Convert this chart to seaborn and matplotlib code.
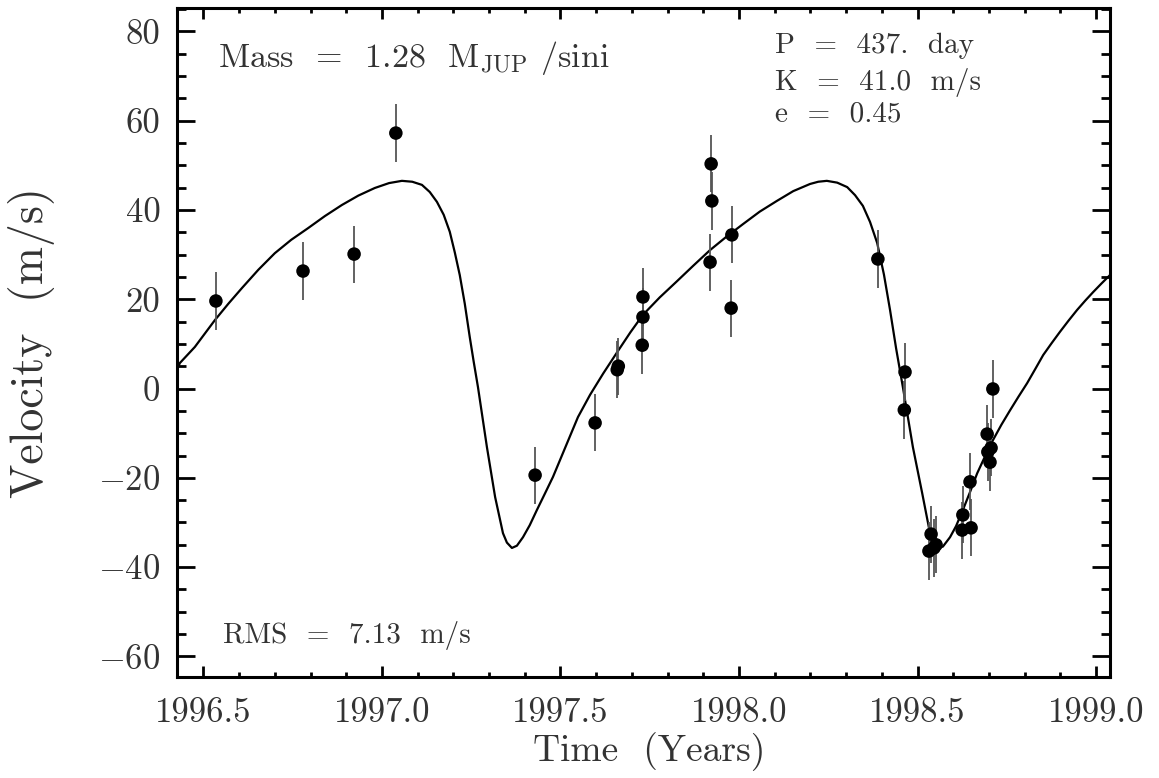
import numpy as np
import pandas as pd
import matplotlib
matplotlib.use("Agg")
import matplotlib.pyplot as plt
from matplotlib.ticker import MultipleLocator
import seaborn as sns

obs_time = [1996.535, 1996.779, 1996.922, 1997.039, 1997.429, 1997.597,
            1997.659, 1997.662, 1997.731, 1997.731, 1997.729, 1997.922,
            1997.924, 1997.919, 1997.980, 1997.978, 1998.389, 1998.465,
            1998.463, 1998.538, 1998.532, 1998.546, 1998.552, 1998.627,
            1998.625, 1998.650, 1998.647, 1998.695, 1998.706, 1998.697,
            1998.703, 1998.711]
obs_vel = [19.6, 26.3, 30.1, 57.2, -19.4, -7.7,
           4.2, 5.0, 20.5, 16.0, 9.7, 50.3,
           42.0, 28.3, 34.4, 18.0, 29.0, 3.7,
           -4.8, -32.6, -36.4, -35.7, -35.0, -28.3,
           -31.7, -31.2, -20.9, -10.2, -13.3, -14.2,
           -16.5, -0.1]
obs_err = [6.4] * len(obs_time)

# fitted orbit curve
fit_time = [1996.426, 1996.434, 1996.476, 1996.532, 1996.570, 1996.608, 1996.654,
            1996.700, 1996.746, 1996.793, 1996.840, 1996.888, 1996.934, 1996.980,
            1997.020, 1997.056, 1997.085, 1997.112, 1997.134, 1997.154, 1997.173,
            1997.190, 1997.204, 1997.218, 1997.232, 1997.246, 1997.257, 1997.269,
            1997.294, 1997.317, 1997.339, 1997.350, 1997.364, 1997.378, 1997.395,
            1997.414, 1997.434, 1997.456, 1997.479, 1997.514, 1997.549, 1997.583,
            1997.620, 1997.661, 1997.696, 1997.731, 1997.778, 1997.826, 1997.872,
            1997.919, 1997.965, 1998.011, 1998.058, 1998.106, 1998.152, 1998.199,
            1998.222, 1998.246, 1998.275, 1998.303, 1998.325, 1998.347, 1998.367,
            1998.387, 1998.406, 1998.423, 1998.440, 1998.459, 1998.487, 1998.513,
            1998.535, 1998.546, 1998.557, 1998.571, 1998.591, 1998.608, 1998.627,
            1998.647, 1998.667, 1998.689, 1998.711, 1998.735, 1998.759, 1998.783,
            1998.807, 1998.830, 1998.852, 1998.876, 1998.899, 1998.923, 1998.947,
            1998.970, 1998.992, 1999.015, 1999.039]
fit_vel = [4.1, 5.7, 9.3, 15.3, 19.0, 22.5, 26.6,
           30.3, 33.3, 35.9, 38.6, 41.1, 43.2, 44.9,
           46.0, 46.5, 46.3, 45.6, 44.0, 41.8, 38.9,
           35.1, 30.5, 25.4, 19.0, 11.5, 6.0, 0.3,
           -13.1, -24.3, -32.4, -34.5, -35.7, -35.2, -33.3,
           -30.6, -27.2, -23.6, -19.8, -13.1, -6.4, -1.4,
           3.4, 8.4, 12.6, 16.5, 20.4, 24.0, 27.5,
           31.0, 34.0, 36.8, 39.6, 42.0, 44.2, 45.8,
           46.3, 46.5, 46.1, 45.1, 43.3, 40.9, 37.3,
           32.6, 25.5, 17.6, 9.0, 0.3, -13.1, -23.4,
           -32.4, -34.6, -35.7, -35.4, -33.3, -30.8, -27.2,
           -23.2, -19.0, -15.2, -11.6, -8.1, -4.9, -1.8,
           1.2, 4.4, 7.5, 10.2, 12.7, 15.2, 17.6,
           19.7, 21.6, 23.5, 25.4]

obs = pd.DataFrame({"time": obs_time, "vel": obs_vel, "err": obs_err})
fit = pd.DataFrame({"time": fit_time, "vel": fit_vel})

sns.set_style("ticks")
plt.rcParams["font.family"] = ["cmr10", "DejaVu Serif"]
plt.rcParams["mathtext.fontset"] = "cm"
plt.rcParams["axes.formatter.use_mathtext"] = True
plt.rcParams["axes.unicode_minus"] = True

txt = "#333333"

fig = plt.figure(figsize=(11.59, 7.78), dpi=100)
ax = fig.add_axes([0.1527, 0.1298, 0.805, 0.8599])

sns.lineplot(data=fit, x="time", y="vel", ax=ax, color="black", lw=1.6,
             estimator=None, sort=False)
ax.errorbar(obs["time"], obs["vel"], yerr=obs["err"], fmt="none",
            ecolor="#555555", elinewidth=1.3, capsize=0, zorder=3)
sns.scatterplot(data=obs, x="time", y="vel", ax=ax, color="black", s=95,
                edgecolor="none", zorder=4)

ax.set_xlim(1996.426, 1999.039)
ax.set_ylim(-64.6, 85.2)
ax.xaxis.set_major_locator(MultipleLocator(0.5))
ax.xaxis.set_minor_locator(MultipleLocator(0.1))
ax.yaxis.set_major_locator(MultipleLocator(20))
ax.yaxis.set_minor_locator(MultipleLocator(5))
ax.xaxis.set_major_formatter(plt.FuncFormatter(lambda v, p: f"{v:.1f}"))
ax.yaxis.set_major_formatter(plt.FuncFormatter(
    lambda v, p: f"{int(round(v))}" if v >= 0 else r"$-$" + f"{int(round(-v))}"))

ax.tick_params(axis="both", which="both", direction="in", top=True, right=True,
               width=2.0, colors="black", labelcolor=txt, labelsize=25)
ax.tick_params(axis="y", which="major", length=13, pad=12)
ax.tick_params(axis="y", which="minor", length=6.5)
ax.tick_params(axis="x", which="major", length=8, pad=15)
ax.tick_params(axis="x", which="minor", length=3.5)
for s in ax.spines.values():
    s.set_linewidth(2.2)
    s.set_color("black")

ax.set_xlabel("Time  (Years)", fontsize=27, color=txt)
ax.set_ylabel("Velocity  (m/s)", fontsize=33, color=txt)
ax.xaxis.set_label_coords(0.506, -0.082)
ax.yaxis.set_label_coords(-0.131, 0.5)

ax.text(0.044, 0.912, r"Mass  =  1.28  M$_{\rm JUP}$ /sini", transform=ax.transAxes,
        fontsize=24.5, color=txt, va="baseline", ha="left")
ax.text(0.641, 0.933, "P  =  437.  day", transform=ax.transAxes,
        fontsize=21, color=txt, va="baseline", ha="left")
ax.text(0.641, 0.877, "K  =  41.0  m/s", transform=ax.transAxes,
        fontsize=21, color=txt, va="baseline", ha="left")
ax.text(0.641, 0.830, "e  =  0.45", transform=ax.transAxes,
        fontsize=21, color=txt, va="baseline", ha="left")
ax.text(0.049, 0.051, "RMS  =  7.13  m/s", transform=ax.transAxes,
        fontsize=21, color=txt, va="baseline", ha="left")

fig.savefig("out.png", dpi=100)
